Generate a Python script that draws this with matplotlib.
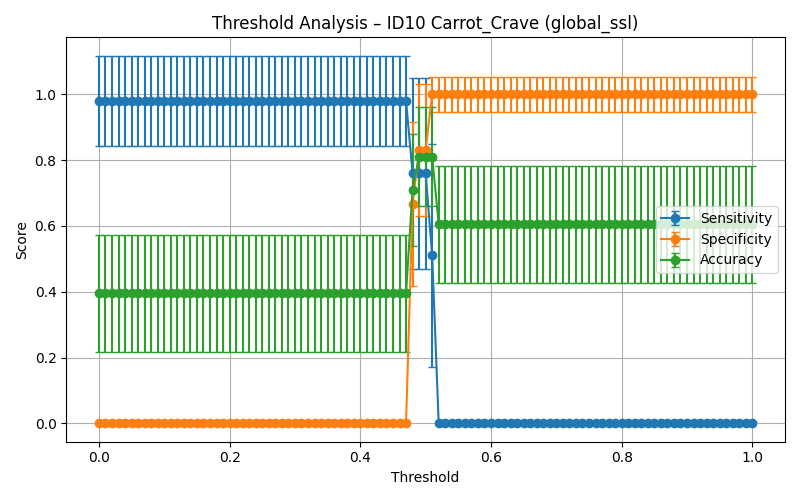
import numpy as np
import matplotlib
matplotlib.use("Agg")
import matplotlib.pyplot as plt

thresholds = np.round(np.arange(0, 1.0001, 0.01), 2)

# values at 0.48, 0.49, 0.50, 0.51
sens_mid = [0.76, 0.76, 0.76, 0.51]
sens_mid_err = [0.29, 0.29, 0.29, 0.34]
spec_mid = [0.667, 0.83, 0.83, 1.0]
spec_mid_err = [0.25, 0.2, 0.2, 0.053]
acc_mid = [0.71, 0.81, 0.81, 0.81]
acc_mid_err = [0.17, 0.15, 0.15, 0.15]

n_low = 48   # 0.00 .. 0.47
n_high = 49  # 0.52 .. 1.00

sens = [0.98] * n_low + sens_mid + [0.0] * n_high
sens_err = [0.137] * n_low + sens_mid_err + [0.0] * n_high
spec = [0.0] * n_low + spec_mid + [1.0] * n_high
spec_err = [0.0] * n_low + spec_mid_err + [0.053] * n_high
acc = [0.395] * n_low + acc_mid + [0.605] * n_high
acc_err = [0.178] * n_low + acc_mid_err + [0.178] * n_high

plt.figure(figsize=(8, 5), dpi=100)
plt.errorbar(thresholds, sens, yerr=sens_err, marker="o", capsize=3, label="Sensitivity")
plt.errorbar(thresholds, spec, yerr=spec_err, marker="o", capsize=3, label="Specificity")
plt.errorbar(thresholds, acc, yerr=acc_err, marker="o", capsize=3, label="Accuracy")
plt.title("Threshold Analysis – ID10 Carrot_Crave (global_ssl)")
plt.xlabel("Threshold")
plt.ylabel("Score")
plt.grid(True)
plt.legend(loc="center right")
plt.tight_layout()
plt.savefig("out.png")
